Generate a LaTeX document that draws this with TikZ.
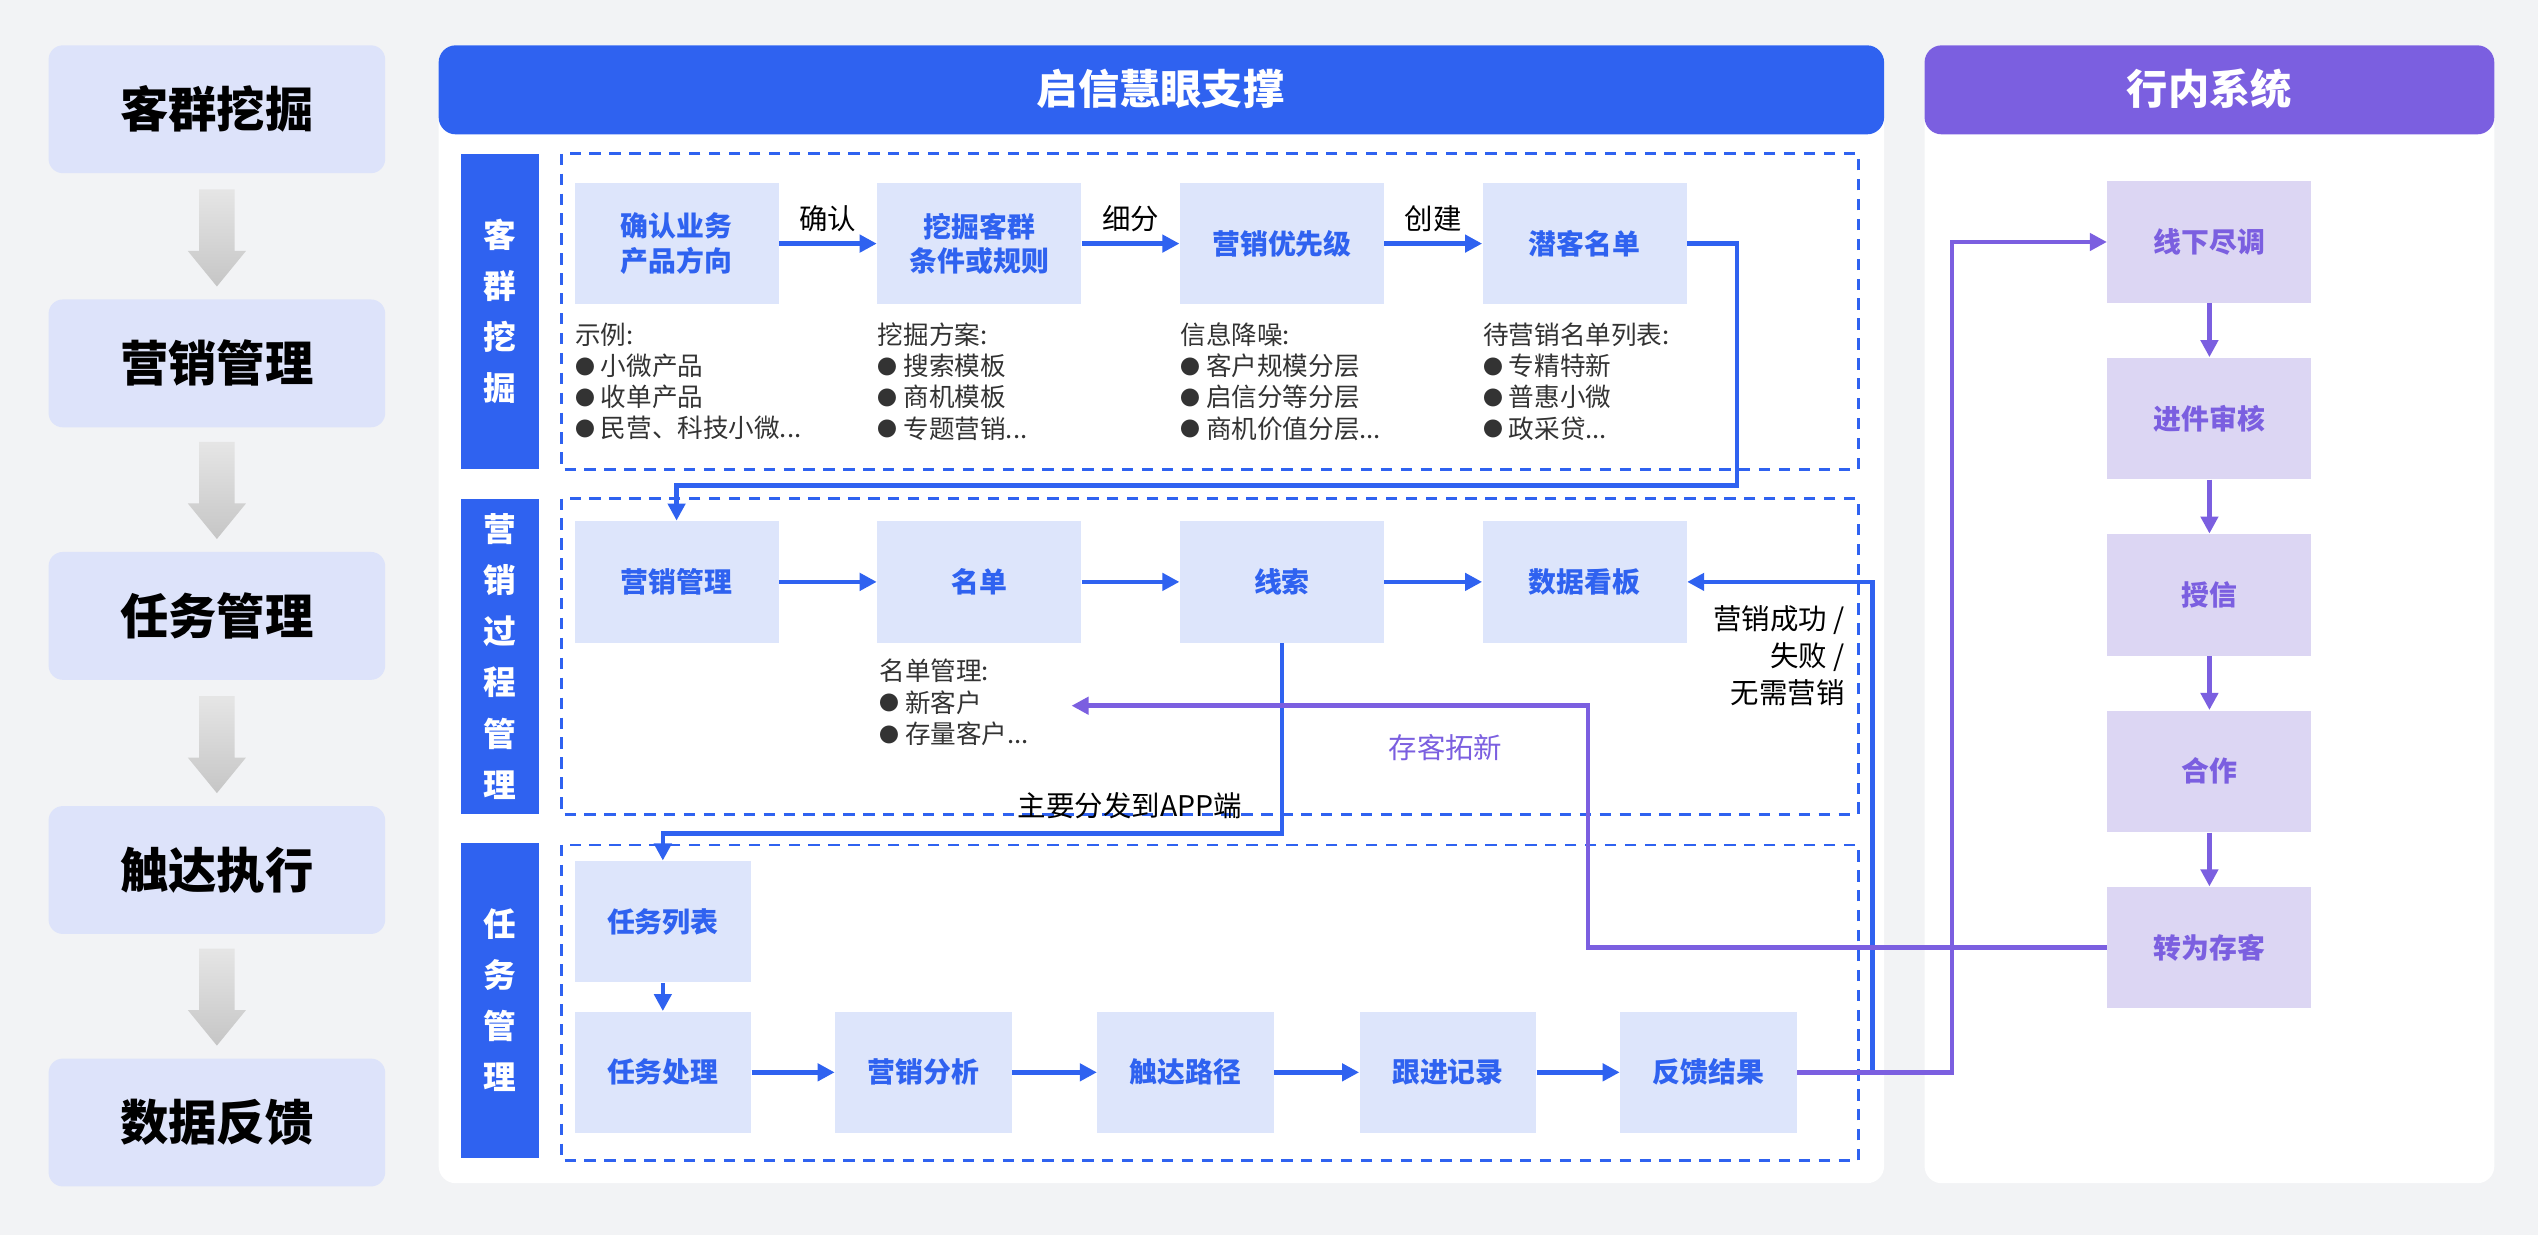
\documentclass[tikz,border=0pt]{standalone}
\usepackage{fontspec}
\setmainfont{Noto Sans CJK SC}
\usetikzlibrary{arrows.meta}
\definecolor{bg}{HTML}{F2F3F5}
\definecolor{bl}{HTML}{2F62F0}
\definecolor{lbl}{HTML}{DDE5FB}
\definecolor{pu}{HTML}{7B5FE0}
\definecolor{lpu}{HTML}{DCD6F3}
\definecolor{lft}{HTML}{DDE3FA}
\definecolor{txt}{HTML}{333333}
\newcommand{\bu}{{\fontsize{7}{11}\selectfont\raisebox{0.5pt}{●}}\ }
\begin{document}
\begin{tikzpicture}[x=0.02cm,y=-0.02cm,
 lbox/.style={fill=lft,rounded corners=5pt,minimum width=4.16cm,minimum height=1.58cm,font=\fontsize{17}{20}\selectfont\bfseries,text=black},
 nb/.style={fill=lbl,text=bl,font=\fontsize{9.8}{12}\selectfont\bfseries,align=center,minimum width=2.52cm,minimum height=1.5cm},
 tb/.style={nb,minimum width=2.18cm},
 rb/.style={fill=lpu,text=pu,font=\fontsize{9.8}{12}\selectfont\bfseries,minimum width=2.52cm,minimum height=1.5cm},
 ar/.style={bl,line width=1.6pt,-{Triangle[length=6pt,width=6pt]}},
 par/.style={pu,line width=1.6pt,-{Triangle[length=6pt,width=6pt]}},
 lst/.style={anchor=north west,align=left,font=\fontsize{9}{11}\selectfont,text=txt,inner sep=0pt},
 sb/.style={fill=bl,text=white,font=\fontsize{11.5}{18}\selectfont\bfseries,align=center,minimum width=0.96cm,minimum height=3.9cm},
 dbox/.style={draw=bl,line width=1pt,dash pattern=on 4pt off 3pt}]
\fill[bg] (0,0) rectangle (1568,763);
\useasboundingbox (0,0) rectangle (1568,763);
% left column
\node[lbox] (l1) at (134,67.5) {客群挖掘};
\node[lbox] (l2) at (134,224.5) {营销管理};
\node[lbox] (l3) at (134,380.5) {任务管理};
\node[lbox] (l4) at (134,537.5) {触达执行};
\node[lbox] (l5) at (134,693.5) {数据反馈};
\foreach \y in {117,273,430,586}
  \shade[top color=gray!20,bottom color=gray!45] (123,\y) -- (145,\y) -- (145,\y+38) -- (152,\y+38) -- (134,\y+60) -- (116,\y+38) -- (123,\y+38) -- cycle;
% panels
\fill[white,rounded corners=6pt] (271,28) rectangle (1164,731);
\fill[bl,rounded corners=6pt] (271,28) rectangle (1164,83);
\node[text=white,font=\fontsize{14.5}{17}\selectfont\bfseries] (h1) at (717,55) {启信慧眼支撑};
\fill[white,rounded corners=6pt] (1189,28) rectangle (1541,731);
\fill[pu,rounded corners=6pt] (1189,28) rectangle (1541,83);
\node[text=white,font=\fontsize{14.5}{17}\selectfont\bfseries] (h2) at (1365,55) {行内系统};
% side bars
\node[sb] (s1) at (309,192.5) {客\\群\\挖\\掘};
\node[sb] (s2) at (309,405.5) {营\\销\\过\\程\\管\\理};
\node[sb] (s3) at (309,618) {任\\务\\管\\理};
\draw[dbox] (347,95) rectangle (1148,290);
\draw[dbox] (347,308) rectangle (1148,503);
\draw[dbox] (347,522) rectangle (1148,717);
% row1
\node[nb] (a1) at (418,150.5) {确认业务\\产品方向};
\node[nb] (a2) at (605,150.5) {挖掘客群\\条件或规则};
\node[nb] (a3) at (792,150.5) {营销优先级};
\node[nb] (a4) at (979,150.5) {潜客名单};
\draw[ar] (a1) -- node[above,text=black,font=\fontsize{10}{12}\selectfont]{确认} (a2);
\draw[ar] (a2) -- node[above,text=black,font=\fontsize{10}{12}\selectfont]{细分} (a3);
\draw[ar] (a3) -- node[above,text=black,font=\fontsize{10}{12}\selectfont]{创建} (a4);
\node[lst] (t1) at (355,199) {示例:\\\bu 小微产品\\\bu 收单产品\\\bu 民营、科技小微...};
\node[lst] (t2) at (542,199) {挖掘方案:\\\bu 搜索模板\\\bu 商机模板\\\bu 专题营销...};
\node[lst] (t3) at (729,199) {信息降噪:\\\bu 客户规模分层\\\bu 启信分等分层\\\bu 商机价值分层...};
\node[lst] (t4) at (916,199) {待营销名单列表:\\\bu 专精特新\\\bu 普惠小微\\\bu 政采贷...};
% row2
\node[nb] (b1) at (418,359.5) {营销管理};
\node[nb] (b2) at (605,359.5) {名单};
\node[nb] (b3) at (792,359.5) {线索};
\node[nb] (b4) at (979,359.5) {数据看板};
\draw[ar] (b1) -- (b2);
\draw[ar] (b2) -- (b3);
\draw[ar] (b3) -- (b4);
\draw[ar] (a4.east) -- (1073,150.5) -- (1073,300) -- (418,300) -- (b1.north);
\node[lst] (t5) at (543,407) {名单管理:\\\bu 新客户\\\bu 存量客户...};
\node[font=\fontsize{10}{12}\selectfont,text=pu] (ck) at (893,462) {存客拓新};
\node[font=\fontsize{10}{13}\selectfont,align=right,anchor=north east,inner sep=0pt] (yx) at (1140,374) {营销成功 /\\失败 /\\无需营销};
% row3
\node[tb] (c0) at (409.5,569.5) {任务列表};
\node[tb] (c1) at (409.5,662.5) {任务处理};
\node[tb] (c2) at (570.5,662.5) {营销分析};
\node[tb] (c3) at (732.5,662.5) {触达路径};
\node[tb] (c4) at (894.5,662.5) {跟进记录};
\node[tb] (c5) at (1055.5,662.5) {反馈结果};
\draw[ar] (c0) -- (c1);
\draw[ar] (c1) -- (c2);
\draw[ar] (c2) -- (c3);
\draw[ar] (c3) -- (c4);
\draw[ar] (c4) -- (c5);
\draw[ar] (b3.south) -- (792,515) -- (409.5,515) -- (c0.north);
\node[font=\fontsize{10}{12}\selectfont] (app) at (698,498) {主要分发到APP端};
% right
\node[rb] (r1) at (1365,149.5) {线下尽调};
\node[rb] (r2) at (1365,258.5) {进件审核};
\node[rb] (r3) at (1365,367.5) {授信};
\node[rb] (r4) at (1365,476.5) {合作};
\node[rb] (r5) at (1365,585.5) {转为存客};
\draw[par] (r1) -- (r2);
\draw[par] (r2) -- (r3);
\draw[par] (r3) -- (r4);
\draw[par] (r4) -- (r5);
% long connectors
\draw[ar] (c5.east) -- (1157,662.5) -- (1157,359.5) -- (b4.east);
\draw[par] (c5.east) -- (1206,662.5) -- (1206,149.5) -- (r1.west);
\draw[par] (r5.west) -- (981,585.5) -- (981,436) -- (662,436);
\end{tikzpicture}
\end{document}
